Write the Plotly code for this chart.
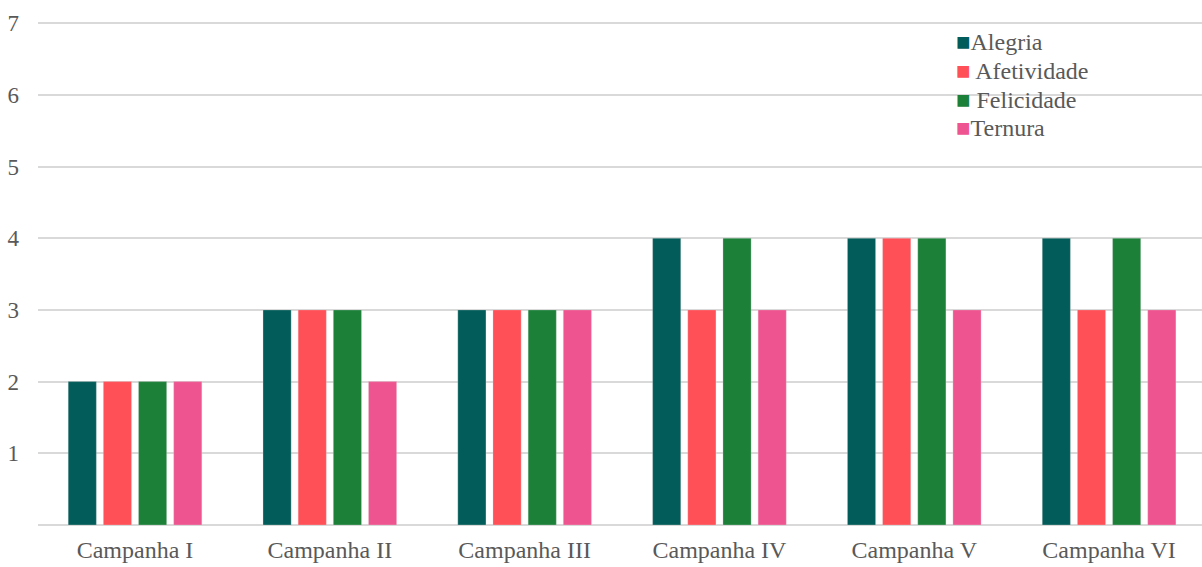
import plotly.graph_objects as go

campanhas = ["Campanha I", "Campanha II", "Campanha III", "Campanha IV", "Campanha V", "Campanha VI"]
alegria = [2, 3, 3, 4, 4, 4]
afetividade = [2, 3, 3, 3, 4, 3]
felicidade = [2, 3, 3, 4, 4, 4]
ternura = [2, 2, 3, 3, 3, 3]
y_ticks = [1, 2, 3, 4, 5, 6, 7]

series = [
    ("Alegria", alegria, "#025C59"),
    (" Afetividade", afetividade, "#FF4F57"),
    (" Felicidade", felicidade, "#1C8039"),
    ("Ternura", ternura, "#EE5590"),
]

font_family = "Liberation Serif, Times New Roman, serif"
text_color = "#595959"

fig = go.Figure()
for name, vals, color in series:
    fig.add_trace(go.Bar(
        x=campanhas, y=vals, name=name, showlegend=False,
        marker=dict(color=color, line=dict(color="rgba(220,220,220,0.6)", width=0.5)),
    ))

# compact legend: coloured square glyph followed by the series name
legend_y = [0.958, 0.901, 0.844, 0.787]
annotations = []
for (name, _, color), ly in zip(series, legend_y):
    annotations.append(dict(
        xref="paper", yref="paper", x=0.787, y=ly,
        xanchor="left", yanchor="middle", showarrow=False,
        text=f"<span style='color:{color}'>■</span>{name}",
        font=dict(family=font_family, size=24, color=text_color),
    ))

fig.update_layout(
    width=1202, height=567,
    margin=dict(l=38, r=0, t=21, b=42),
    paper_bgcolor="white", plot_bgcolor="white",
    barmode="group", bargap=0.278, bargroupgap=0.2,
    font=dict(family=font_family, size=24, color=text_color),
    annotations=annotations,
    xaxis=dict(
        range=[-0.498, 5.477],
        showgrid=False, showline=False, ticks="",
        ticklabelstandoff=8,
        tickfont=dict(family=font_family, size=24, color=text_color),
    ),
    yaxis=dict(
        range=[0, 7.03], tickvals=y_ticks,
        showgrid=True, gridcolor="#D9D9D9", gridwidth=1.5,
        zeroline=True, zerolinecolor="#D9D9D9", zerolinewidth=1.5,
        showline=False, ticks="",
        ticklabelstandoff=18,
        tickfont=dict(family=font_family, size=23, color=text_color),
    ),
)

fig.write_html("out.html")
